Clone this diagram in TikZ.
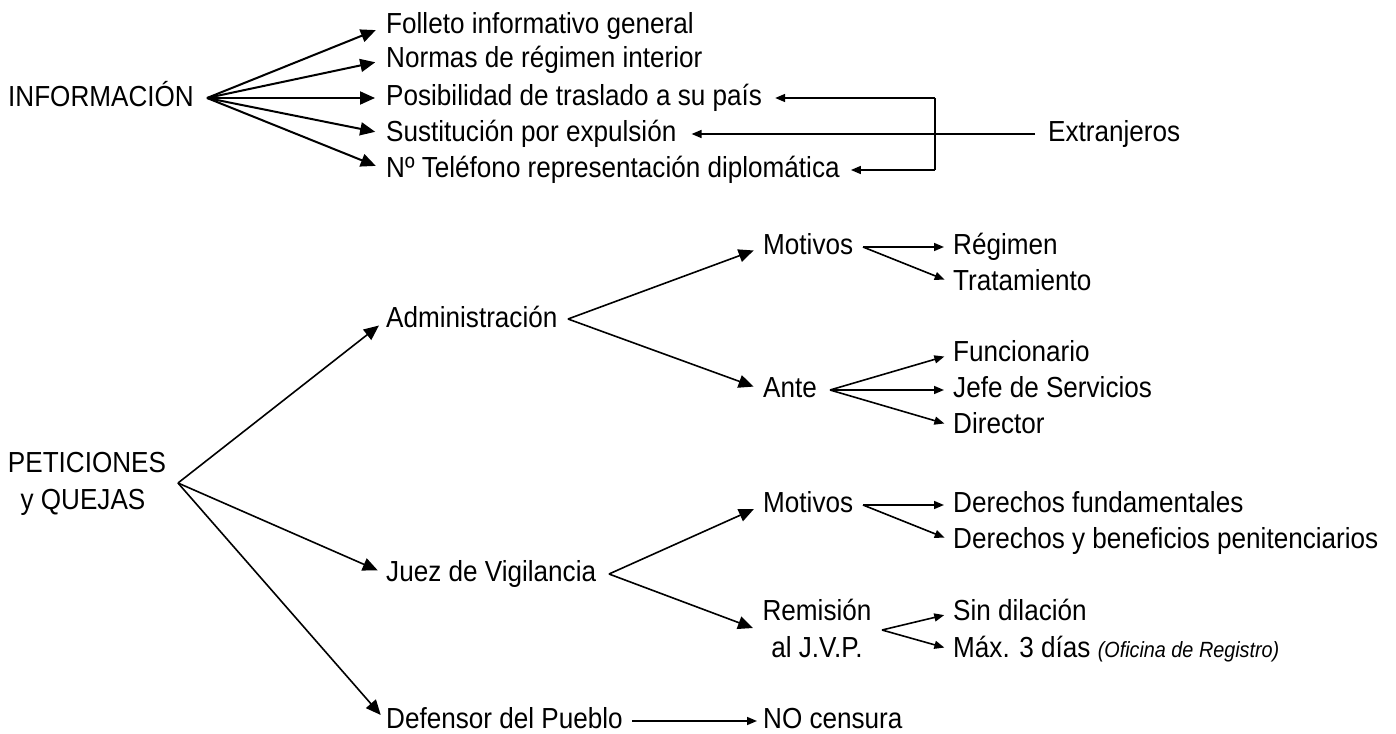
\documentclass[tikz,border=0pt]{standalone}
\usepackage{fontspec}
\setmainfont[FakeStretch=0.9]{Liberation Sans}
\usetikzlibrary{arrows.meta}
\tikzset{
  lbl/.style={anchor=west, inner sep=0pt, font=\fontsize{29}{33}\selectfont, text height=21pt, text depth=6pt},
  ctr/.style={lbl, anchor=center},
  bigi/.style={line width=2pt, -{Triangle[length=15pt,width=13pt]}, shorten >=11pt},
  big/.style={line width=1.6pt, -{Triangle[length=15pt,width=13pt]}, shorten >=10pt},
  small/.style={line width=1.6pt, -{Triangle[length=10pt,width=8pt]}, shorten >=9pt},
  plain/.style={line width=1.6pt}
}
\begin{document}
\begin{tikzpicture}[x=1pt,y=-1pt]
\useasboundingbox (0,0) rectangle (1396,733);
% ---- INFORMACION
\node[lbl] (info) at (8,99) {INFORMACIÓN};
\coordinate (infoO) at (207,98);
\node[lbl] (fol) at (386,26) {Folleto informativo general};
\node[lbl] (nor) at (386,60) {Normas de régimen interior};
\node[lbl] (pos) at (386,98) {Posibilidad de traslado a su país};
\node[lbl] (sus) at (386,134) {Sustitución por expulsión};
\node[lbl] (tel) at (386,170) {Nº Teléfono representación diplomática};
\foreach \t in {fol,nor,pos,sus,tel} \draw[bigi] (infoO) -- (\t.west);
\node[lbl] (ext) at (1048,134) {Extranjeros};
\coordinate (extO) at (1035,134);
\coordinate (brT) at (935,98);
\coordinate (brB) at (935,170);
\draw[small, shorten >=15pt] (extO) -- (sus.east);
\draw[plain] (brT) -- (brB);
\draw[small, shorten >=13pt] (brT) -- (pos.east);
\draw[small, shorten >=11pt] (brB) -- (tel.east);
% ---- PETICIONES
\node[ctr] (pet) at (87,465) {PETICIONES};
\node[ctr] (pet2) at (83,502) {y QUEJAS};
\coordinate (petO) at (178,483);
\node[lbl] (adm) at (386,320) {Administración};
\node[lbl] (juez) at (386,574) {Juez de Vigilancia};
\node[lbl] (def) at (386,721) {Defensor del Pueblo};
\draw[big, shorten >=9pt] (petO) -- (adm.west);
\draw[big, shorten >=9pt] (petO) -- (juez.west);
\draw[big, shorten >=8pt] (petO) -- (def.west);
% Administracion
\coordinate (admO) at (568,319);
\node[lbl] (mot1) at (763,247) {Motivos};
\node[lbl] (ante) at (763,390) {Ante};
\draw[big] (admO) -- (mot1.west);
\draw[big] (admO) -- (ante.west);
\coordinate (mot1O) at (863,247);
\node[lbl] (reg) at (953,247) {Régimen};
\node[lbl] (trat) at (953,283) {Tratamiento};
\draw[small] (mot1O) -- (reg.west);
\draw[small] (mot1O) -- (trat.west);
\coordinate (anteO) at (830,390);
\node[lbl] (fun) at (953,354) {Funcionario};
\node[lbl] (jefe) at (953,390) {Jefe de Servicios};
\node[lbl] (dir) at (953,426) {Director};
\draw[small] (anteO) -- (fun.west);
\draw[small] (anteO) -- (jefe.west);
\draw[small] (anteO) -- (dir.west);
% Juez
\coordinate (juezO) at (609,574);
\node[lbl] (mot2) at (763,505) {Motivos};
\node[ctr] (rem) at (817,613) {Remisión};
\node[ctr] (rem2) at (817,650) {al J.V.P.};
\coordinate (remT) at (753,628);
\draw[big] (juezO) -- (mot2.west);
\draw[big, shorten >=0pt] (juezO) -- (remT);
\coordinate (mot2O) at (863,505);
\node[lbl] (df) at (953,505) {Derechos fundamentales};
\node[lbl] (dyb) at (953,541) {Derechos y beneficios penitenciarios};
\draw[small] (mot2O) -- (df.west);
\draw[small] (mot2O) -- (dyb.west);
\coordinate (remO) at (882,630);
\node[lbl] (sin) at (953,613) {Sin dilación};
\node[lbl] (max) at (953,650) {Máx. 3 días {\fontsize{22}{26}\selectfont\itshape (Oficina de Registro)}};
\draw[small] (remO) -- (sin.west);
\draw[small] (remO) -- (max.west);
% Defensor
\coordinate (defO) at (632,721);
\node[lbl] (noc) at (763,721) {NO censura};
\draw[small, shorten >=6pt] (defO) -- (noc.west);
\end{tikzpicture}
\end{document}
